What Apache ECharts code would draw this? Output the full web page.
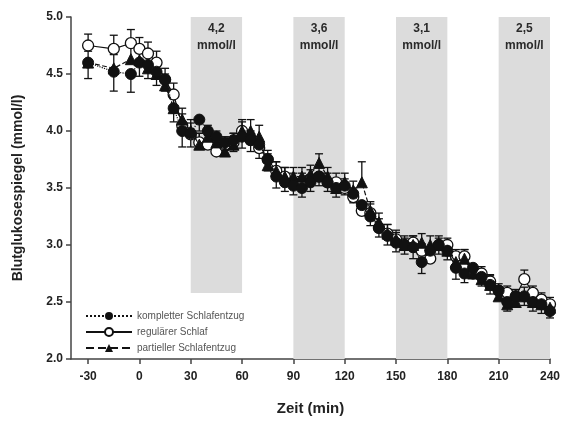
<!DOCTYPE html>
<html>
<head>
<meta charset="utf-8">
<script src="https://cdn.jsdelivr.net/npm/echarts@6/dist/echarts.min.js"></script>
<style>
  html, body { margin: 0; padding: 0; background: #fff; }
  #chart { width: 563px; height: 421px; }
</style>
</head>
<body>
<div id="chart"></div>
<script>
// Zeitpunkte (min)
const minutes = [-30, -15, -5, 0, 5, 10, 15, 20, 25, 30, 35, 40, 45, 50, 55, 60, 65, 70, 75, 80, 85, 90,
  95, 100, 105, 110, 115, 120, 125, 130, 135, 140, 145, 150, 155, 160, 165, 170, 175, 180, 185, 190,
  195, 200, 205, 210, 215, 220, 225, 230, 235, 240];

const komplett = [4.60, 4.52, 4.50, 4.60, 4.58, 4.52, 4.45, 4.20, 4.00, 3.98, 4.10, 4.00, 3.95, 3.90, 3.92, 3.95,
  3.92, 3.88, 3.75, 3.60, 3.55, 3.52, 3.50, 3.55, 3.60, 3.55, 3.50, 3.52, 3.45, 3.35, 3.25, 3.15,
  3.08, 3.02, 3.00, 2.98, 2.85, 2.95, 3.00, 2.95, 2.80, 2.75, 2.80, 2.72, 2.65, 2.60, 2.50, 2.55,
  2.55, 2.50, 2.48, 2.42];
const komplettErr = [0.14, 0.17, 0.16, 0.12, 0.12, 0.12, 0.10, 0.12, 0.14, 0.12, 0.10, 0.10, 0.10, 0.10, 0.10, 0.10,
  0.10, 0.12, 0.10, 0.10, 0.08, 0.08, 0.08, 0.08, 0.08, 0.08, 0.08, 0.08, 0.08, 0.08, 0.08, 0.08,
  0.08, 0.08, 0.08, 0.10, 0.10, 0.08, 0.08, 0.08, 0.10, 0.08, 0.08, 0.08, 0.08, 0.08, 0.08, 0.08,
  0.08, 0.08, 0.08, 0.06];

const regulaer = [4.75, 4.72, 4.77, 4.72, 4.68, 4.60, 4.45, 4.32, 4.05, 3.97, 3.90, 3.88, 3.82, 3.87, 3.90, 4.00,
  3.92, 3.85, 3.75, 3.65, 3.60, 3.55, 3.55, 3.58, 3.60, 3.55, 3.55, 3.50, 3.42, 3.30, 3.28, 3.15,
  3.10, 3.05, 3.00, 3.02, 2.95, 2.88, 3.00, 3.00, 2.90, 2.90, 2.75, 2.75, 2.68, 2.60, 2.58, 2.55,
  2.70, 2.58, 2.52, 2.48];
const regulaerErr = [0.10, 0.12, 0.12, 0.10, 0.10, 0.10, 0.10, 0.10, 0.10, 0.10, 0.08, 0.08, 0.08, 0.08, 0.08, 0.08,
  0.08, 0.08, 0.08, 0.08, 0.08, 0.08, 0.08, 0.08, 0.08, 0.08, 0.08, 0.08, 0.08, 0.08, 0.08, 0.08,
  0.08, 0.06, 0.06, 0.06, 0.06, 0.06, 0.06, 0.06, 0.06, 0.06, 0.06, 0.06, 0.06, 0.06, 0.06, 0.06,
  0.08, 0.06, 0.06, 0.06];

const partiell = [4.60, 4.55, 4.63, 4.62, 4.55, 4.50, 4.40, 4.20, 4.10, 4.00, 3.88, 3.95, 3.90, 3.82, 3.88, 4.00,
  4.00, 3.95, 3.70, 3.65, 3.60, 3.60, 3.60, 3.62, 3.72, 3.60, 3.50, 3.55, 3.48, 3.55, 3.30, 3.20,
  3.10, 3.05, 3.00, 3.00, 3.02, 3.00, 3.00, 2.95, 2.85, 2.88, 2.75, 2.70, 2.65, 2.55, 2.48, 2.50,
  2.55, 2.50, 2.48, 2.45];
const partiellErr = [0.10, 0.12, 0.12, 0.10, 0.10, 0.10, 0.10, 0.10, 0.10, 0.10, 0.10, 0.10, 0.10, 0.10, 0.10, 0.10,
  0.10, 0.10, 0.10, 0.08, 0.08, 0.08, 0.08, 0.08, 0.08, 0.08, 0.08, 0.08, 0.08, 0.18, 0.08, 0.08,
  0.08, 0.08, 0.08, 0.08, 0.08, 0.08, 0.08, 0.08, 0.08, 0.08, 0.08, 0.08, 0.08, 0.08, 0.08, 0.08,
  0.08, 0.08, 0.08, 0.06];

// Clamp-Phasen
const bandStart = [30, 90, 150, 210];
const bandEnd = [60, 120, 180, 240];
const bandLabel = ['4,2\nmmol/l', '3,6\nmmol/l', '3,1\nmmol/l', '2,5\nmmol/l'];
const bandBottom = [2.58, 2.0, 2.0, 2.0];

const xTicks = [-30, 0, 30, 60, 90, 120, 150, 180, 210, 240];

const chart = echarts.init(document.getElementById('chart'));

function pairs(vals) {
  return minutes.map((m, i) => [m, vals[i]]);
}

// Fehlerbalken: dir = 1 nach oben, -1 nach unten
function errSeries(name, vals, errs, dir) {
  return {
    name: name,
    type: 'custom',
    data: minutes.map((m, i) => [m, vals[i], vals[i] + dir * errs[i]]),
    z: 1,
    silent: true,
    renderItem: function (params, api) {
      const p0 = api.coord([api.value(0), api.value(1)]);
      const p1 = api.coord([api.value(0), api.value(2)]);
      const w = 4;
      const style = { stroke: '#111', lineWidth: 1.3 };
      return {
        type: 'group',
        children: [
          { type: 'line', shape: { x1: p0[0], y1: p0[1], x2: p1[0], y2: p1[1] }, style: style },
          { type: 'line', shape: { x1: p1[0] - w, y1: p1[1], x2: p1[0] + w, y2: p1[1] }, style: style }
        ]
      };
    }
  };
}

const markData = bandStart.map((s, i) => [
  { xAxis: s, yAxis: bandBottom[i], name: bandLabel[i] },
  { xAxis: bandEnd[i], yAxis: 5.0 }
]);

const option = {
  animation: false,
  grid: { left: 71, right: 9, top: 17, bottom: 61 },
  legend: {
    orient: 'vertical',
    left: 80,
    top: 306,
    itemWidth: 46,
    itemHeight: 10,
    itemGap: 6,
    data: ['kompletter Schlafentzug', 'regulärer Schlaf', 'partieller Schlafentzug'],
    textStyle: { fontSize: 10, color: '#555', fontFamily: 'Liberation Sans' }
  },
  xAxis: {
    type: 'value',
    min: -40,
    max: 240,
    name: 'Zeit (min)',
    nameLocation: 'middle',
    nameGap: 42,
    nameTextStyle: { fontSize: 15, fontWeight: 'bold', color: '#222', fontFamily: 'Liberation Sans' },
    axisLine: { onZero: false, lineStyle: { color: '#444', width: 1.5 } },
    axisTick: { show: true, length: 5, customValues: xTicks, lineStyle: { color: '#444', width: 1.5 } },
    axisLabel: { customValues: xTicks, margin: 12, fontSize: 12, fontWeight: 'bold', color: '#222', fontFamily: 'Liberation Sans' },
    splitLine: { show: false }
  },
  yAxis: {
    type: 'value',
    min: 2.0,
    max: 5.0,
    interval: 0.5,
    name: 'Blutglukosespiegel (mmol/l)',
    nameLocation: 'middle',
    nameGap: 46,
    nameRotate: 90,
    nameTextStyle: { fontSize: 14, fontWeight: 'bold', color: '#222', fontFamily: 'Liberation Sans' },
    axisLine: { show: true, onZero: false, lineStyle: { color: '#444', width: 1.5 } },
    axisTick: { show: true, length: 5, lineStyle: { color: '#444', width: 1.5 } },
    axisLabel: {
      margin: 8, fontSize: 12, fontWeight: 'bold', color: '#222', fontFamily: 'Liberation Sans',
      formatter: v => v.toFixed(1)
    },
    splitLine: { show: false }
  },
  series: [
    {
      name: 'bands',
      type: 'line',
      data: [],
      silent: true,
      markArea: {
        silent: true,
        itemStyle: { color: '#dcdcdc' },
        label: {
          show: true,
          position: 'insideTop',
          distance: 3,
          fontSize: 12,
          fontWeight: 'bold',
          color: '#2a2a2a',
          lineHeight: 17,
          fontFamily: 'Liberation Sans'
        },
        data: markData
      }
    },
    errSeries('errR', regulaer, regulaerErr, 1),
    errSeries('errK', komplett, komplettErr, -1),
    errSeries('errP', partiell, partiellErr, 1),
    {
      name: 'regulärer Schlaf',
      type: 'line',
      data: pairs(regulaer),
      symbol: 'circle',
      symbolSize: 11,
      z: 3,
      lineStyle: { color: '#111', width: 1.2, type: 'solid' },
      itemStyle: { color: '#fff', borderColor: '#111', borderWidth: 1.3 }
    },
    {
      name: 'partieller Schlafentzug',
      type: 'line',
      data: pairs(partiell),
      symbol: 'triangle',
      symbolSize: 11,
      z: 4,
      lineStyle: { color: '#111', width: 1.2, type: 'dashed' },
      itemStyle: { color: '#111', borderColor: '#111' }
    },
    {
      name: 'kompletter Schlafentzug',
      type: 'line',
      data: pairs(komplett),
      symbol: 'circle',
      symbolSize: 11,
      z: 5,
      lineStyle: { color: '#111', width: 1.2, type: 'dotted' },
      itemStyle: { color: '#111', borderColor: '#111' }
    }
  ]
};

chart.setOption(option);
</script>
</body>
</html>
